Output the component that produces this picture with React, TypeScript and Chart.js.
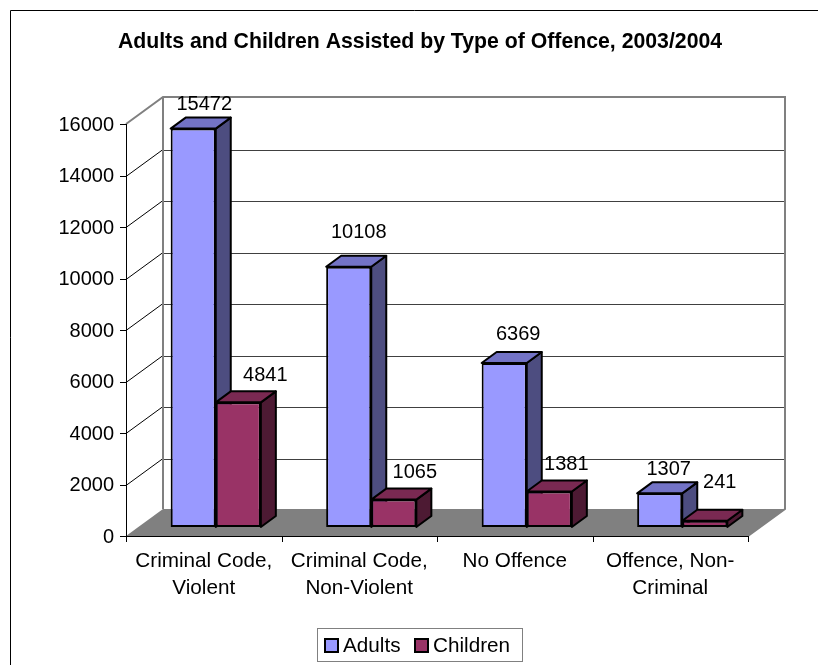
import React, { useEffect, useRef } from "react";
import { Chart, registerables } from "chart.js";

Chart.register(...registerables);

// ---------- data ----------
const categories: string[][] = [
  ["Criminal Code,", "Violent"],
  ["Criminal Code,", "Non-Violent"],
  ["No Offence"],
  ["Offence, Non-", "Criminal"],
];
const seriesNames = ["Adults", "Children"];
const adults = [15472, 10108, 6369, 1307];
const children = [4841, 1065, 1381, 241];
const yTicks = [0, 2000, 4000, 6000, 8000, 10000, 12000, 14000, 16000];
const titleText = "Adults and Children Assisted by Type of Offence, 2003/2004";

// ---------- styles ----------
const FONT = '"Liberation Sans", Arial, sans-serif';
const FRONT = ["#9999FF", "#993366"];
const TOP = ["#7373C6", "#7A2952"];
const SIDE = ["#4D4D80", "#4D1A33"];
const DEPTH = { dx: 37, dy: -27 };
const BAR_OFF = { dx: 12, dy: -9 };
const BAR_DEPTH = { dx: 15, dy: -11 };
const LABEL_DX = [
  [11, 10, 14, 9],
  [27, 21, 17, 15],
];
const LABEL_DY = [
  [19, 29, 23, 18],
  [21, 22, 21, 33],
];

const excel3d = {
  id: "excel3d",
  beforeDatasetsDraw(chart: any) {
    const { ctx, chartArea: a, scales } = chart;
    const y = scales.y;
    const x = scales.x;
    const L = a.left, R = a.right, T = a.top, B = a.bottom;
    const dx = DEPTH.dx, dy = DEPTH.dy;
    ctx.save();
    // back wall
    ctx.fillStyle = "#ffffff";
    ctx.fillRect(L + dx, T + dy, R - L, B - T);
    // floor
    ctx.beginPath();
    ctx.moveTo(L, B);
    ctx.lineTo(R, B);
    ctx.lineTo(R + dx, B + dy);
    ctx.lineTo(L + dx, B + dy);
    ctx.closePath();
    ctx.fillStyle = "#808080";
    ctx.fill();
    // gridlines (side + back wall)
    ctx.lineWidth = 1;
    for (const v of yTicks) {
      if (v === yTicks[0] || v === yTicks[yTicks.length - 1]) continue;
      const py = Math.round(y.getPixelForValue(v)) + 0.5;
      ctx.strokeStyle = "#000000";
      ctx.beginPath();
      ctx.moveTo(L, py);
      ctx.lineTo(L + dx, py + dy);
      ctx.stroke();
      ctx.strokeStyle = "#404040";
      ctx.beginPath();
      ctx.moveTo(L + dx, Math.round(py + dy) + 0.5);
      ctx.lineTo(R + dx, Math.round(py + dy) + 0.5);
      ctx.stroke();
    }
    // wall borders
    ctx.strokeStyle = "#808080";
    ctx.lineWidth = 2;
    ctx.beginPath();
    ctx.moveTo(L, T);
    ctx.lineTo(L + dx, T + dy);
    ctx.lineTo(R + dx, T + dy);
    ctx.lineTo(R + dx, B + dy);
    ctx.lineTo(R, B);
    ctx.stroke();
    ctx.beginPath();
    ctx.moveTo(L + dx, T + dy);
    ctx.lineTo(L + dx, B + dy);
    ctx.stroke();
    // axes
    ctx.strokeStyle = "#000000";
    ctx.lineWidth = 1;
    ctx.beginPath();
    ctx.moveTo(Math.round(L) + 0.5, T);
    ctx.lineTo(Math.round(L) + 0.5, Math.round(B) + 0.5);
    ctx.lineTo(R, Math.round(B) + 0.5);
    ctx.stroke();
    for (const v of yTicks) {
      const py = Math.round(y.getPixelForValue(v)) + 0.5;
      ctx.beginPath();
      ctx.moveTo(L - 6, py);
      ctx.lineTo(L, py);
      ctx.stroke();
    }
    const n = categories.length;
    for (let i = 0; i <= n; i++) {
      const px = Math.round(L + ((R - L) * i) / n) + 0.5;
      ctx.beginPath();
      ctx.moveTo(px, B);
      ctx.lineTo(px, B + 6);
      ctx.stroke();
    }
    // y tick labels
    ctx.fillStyle = "#000000";
    ctx.font = `20px ${FONT}`;
    ctx.textAlign = "right";
    ctx.textBaseline = "middle";
    for (const v of yTicks) {
      ctx.fillText(String(v), L - 12, y.getPixelForValue(v) + 1);
    }
    // category labels
    ctx.font = `20.7px ${FONT}`;
    ctx.textAlign = "center";
    ctx.textBaseline = "alphabetic";
    categories.forEach((lines, i) => {
      const cx = x.getPixelForValue(i);
      lines.forEach((s, k) => ctx.fillText(s, cx, B + 31 + k * 27));
    });

    // 3D side & top faces of bars
    const metas = [chart.getDatasetMeta(0), chart.getDatasetMeta(1)];
    ctx.lineWidth = 2;
    ctx.lineJoin = "round";
    ctx.strokeStyle = "#000000";
    for (let i = 0; i < n; i++) {
      for (let d = 0; d < metas.length; d++) {
        const el = metas[d].data[i];
        const p = el.getProps(["x", "y", "base", "width"], true);
        const l = p.x - p.width / 2 + BAR_OFF.dx;
        const r = p.x + p.width / 2 + BAR_OFF.dx;
        const t = p.y + BAR_OFF.dy;
        const b = p.base + BAR_OFF.dy;
        const bx = BAR_DEPTH.dx, by = BAR_DEPTH.dy;
        ctx.beginPath();
        ctx.moveTo(r, t);
        ctx.lineTo(r + bx, t + by);
        ctx.lineTo(r + bx, b + by);
        ctx.lineTo(r, b);
        ctx.closePath();
        ctx.fillStyle = SIDE[d];
        ctx.fill();
        ctx.stroke();
        ctx.beginPath();
        ctx.moveTo(l, t);
        ctx.lineTo(r, t);
        ctx.lineTo(r + bx, t + by);
        ctx.lineTo(l + bx, t + by);
        ctx.closePath();
        ctx.fillStyle = TOP[d];
        ctx.fill();
        ctx.stroke();
      }
    }
    ctx.restore();
    ctx.save();
    ctx.translate(BAR_OFF.dx, BAR_OFF.dy);
  },
  afterDatasetsDraw(chart: any) {
    chart.ctx.restore();
  },
  afterDraw(chart: any) {
    const { ctx } = chart;
    ctx.save();
    // value labels
    ctx.fillStyle = "#000000";
    ctx.font = `20px ${FONT}`;
    ctx.textAlign = "center";
    ctx.textBaseline = "alphabetic";
    chart.data.datasets.forEach((ds: any, d: number) => {
      const meta = chart.getDatasetMeta(d);
      meta.data.forEach((el: any, i: number) => {
        const p = el.getProps(["x", "y"], true);
        ctx.fillText(
          String(ds.data[i]),
          p.x + BAR_OFF.dx + LABEL_DX[d][i],
          p.y + BAR_OFF.dy - LABEL_DY[d][i]
        );
      });
    });
    // title
    ctx.font = `bold 21.25px ${FONT}`;
    ctx.fillText(titleText, 420, 48);
    // legend
    ctx.strokeStyle = "#808080";
    ctx.lineWidth = 1;
    ctx.strokeRect(317.5, 628.5, 205, 33);
    ctx.font = `20.7px ${FONT}`;
    ctx.textAlign = "left";
    const legendX = [325, 415];
    chart.data.datasets.forEach((ds: any, d: number) => {
      ctx.fillStyle = ds.backgroundColor;
      ctx.fillRect(legendX[d], 639, 13, 13);
      ctx.strokeStyle = "#000000";
      ctx.lineWidth = 2;
      ctx.strokeRect(legendX[d], 639, 13, 13);
      ctx.fillStyle = "#000000";
      ctx.fillText(ds.label, legendX[d] + 18, 652);
    });
    // chart frame
    ctx.strokeStyle = "#000000";
    ctx.lineWidth = 1;
    ctx.beginPath();
    ctx.moveTo(10.5, 665);
    ctx.lineTo(10.5, 10.5);
    ctx.lineTo(818, 10.5);
    ctx.stroke();
    ctx.restore();
  },
};

export default function App() {
  const ref = useRef<HTMLCanvasElement>(null);
  useEffect(() => {
    if (!ref.current) return;
    const chart = new Chart(ref.current, {
      type: "bar",
      data: {
        labels: categories,
        datasets: [adults, children].map((data, d) => ({
          label: seriesNames[d],
          data,
          backgroundColor: FRONT[d],
          borderColor: "#000000",
          borderWidth: 2,
          borderSkipped: false,
          categoryPercentage: 0.58,
          barPercentage: 1,
          clip: false,
        })),
      },
      options: {
        animation: false,
        responsive: false,
        devicePixelRatio: 1,
        events: [],
        layout: { padding: { left: 126, top: 124, right: 70, bottom: 129 } },
        scales: {
          x: { display: false, offset: true },
          y: { display: false, min: 0, max: 16000 },
        },
        plugins: {
          legend: { display: false },
          title: { display: false },
          tooltip: { enabled: false },
        },
      },
      plugins: [excel3d],
    } as any);
    return () => chart.destroy();
  }, []);
  return (
    <div style={{ position: "absolute", left: 0, top: 0, width: 818, height: 665 }}>
      <canvas ref={ref} width={818} height={665} />
    </div>
  );
}
